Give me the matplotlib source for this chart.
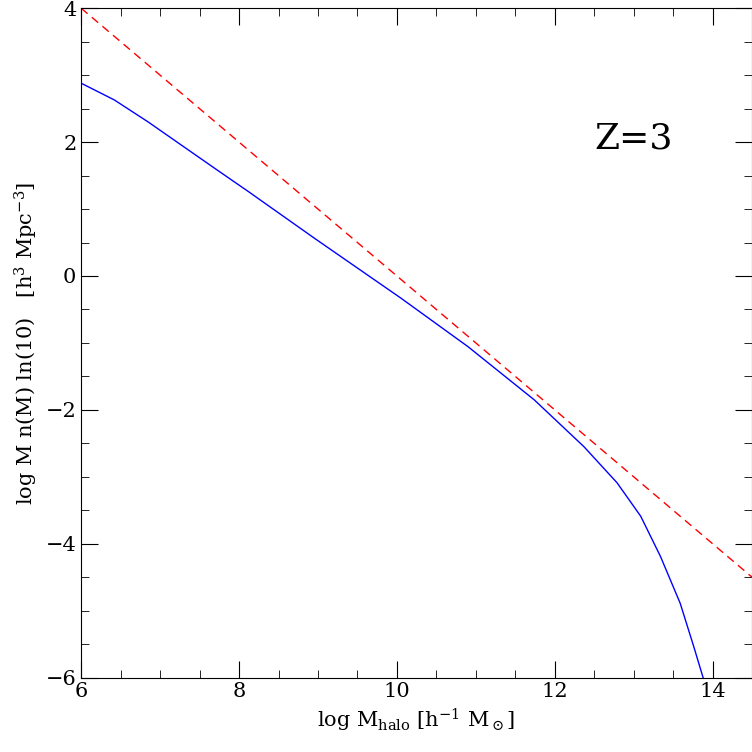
import matplotlib
matplotlib.use("Agg")
import matplotlib.pyplot as plt
from matplotlib.ticker import MultipleLocator

plt.rcParams["font.family"] = "DejaVu Serif"
plt.rcParams["mathtext.fontset"] = "dejavuserif"

logM = [6.0, 6.42, 6.85, 7.27, 7.69, 8.12, 8.96, 10.05, 10.9, 11.74, 12.37, 12.79,
        13.09, 13.34, 13.59, 13.76, 13.88]
logn = [2.88, 2.63, 2.30, 1.955, 1.61, 1.26, 0.56, -0.33, -1.055, -1.85, -2.55, -3.09,
        -3.59, -4.19, -4.89, -5.53, -6.0]
ref_x = [6.0, 14.5]
ref_y = [4.0, -4.5]

fig = plt.figure(figsize=(7.52, 7.52), dpi=100)
ax = fig.add_axes([0.108, 0.099, 0.892, 0.890])
ax.plot(logM, logn, color="blue", lw=1.0)
ax.plot(ref_x, ref_y, color="red", lw=1.0, ls=(0, (6, 4)))
ax.set_xlim(6, 14.5)
ax.set_ylim(-6, 4)
ax.xaxis.set_major_locator(MultipleLocator(2))
ax.xaxis.set_minor_locator(MultipleLocator(0.5))
ax.yaxis.set_major_locator(MultipleLocator(2))
ax.yaxis.set_minor_locator(MultipleLocator(0.5))
ax.tick_params(which="both", direction="in", top=True, right=True, labelsize=15)
ax.tick_params(which="major", length=12)
ax.tick_params(which="minor", length=6)
ax.set_xlabel(r"log M$_{\rm halo}$ [h$^{-1}$ M$_\odot$]", fontsize=15)
ax.set_ylabel(r"log M n(M) ln(10)   [h$^3$ Mpc$^{-3}$]", fontsize=15)
ax.text(12.5, 1.9, "Z=3", fontsize=26)
fig.savefig("out.png", dpi=100)
